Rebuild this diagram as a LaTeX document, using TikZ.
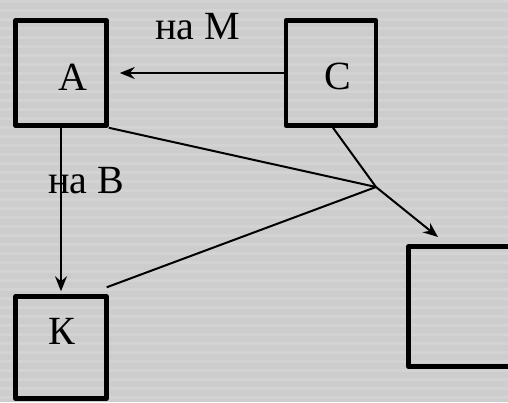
\documentclass[tikz,border=0pt]{standalone}
\usepackage{fontspec}
\setmainfont{Liberation Serif}
\usetikzlibrary{arrows.meta}
\definecolor{bgbase}{HTML}{CDCDCD}
\definecolor{bgstripe}{HTML}{D3D3D3}
\tikzset{
  boxnode/.style={draw=black, line width=4.5pt, line join=round, fill=none, inner sep=0pt},
  conn/.style={draw=black, line width=2pt},
  arr/.style={conn, -{Stealth[length=15pt, width=12pt, inset=5pt]}},
  lbl/.style={font=\fontsize{40}{48}\selectfont, inner sep=0pt}
}
\begin{document}
\begin{tikzpicture}[x=1pt, y=-1pt]
\useasboundingbox (0,0) rectangle (508,402);
\fill[bgbase] (0,0) rectangle (508,402);
\foreach \s in {0,9,...,400} {
  \fill[bgstripe] (0,\s) rectangle (508,\s+3);
}
\begin{scope}
\clip (0,0) rectangle (508,402);
% boxes
\node[boxnode, minimum width=91pt, minimum height=105pt,
      label={[lbl, xshift=12pt, yshift=-4pt]center:А}] (A) at (61,73) {};
\node[boxnode, minimum width=90pt, minimum height=105pt,
      label={[lbl, xshift=7pt, yshift=-3pt]center:С}] (C) at (331,73) {};
\node[boxnode, minimum width=91pt, minimum height=102pt,
      label={[lbl, xshift=1pt, yshift=16pt]center:К}] (K) at (61,347.5) {};
\node[boxnode, minimum width=120pt, minimum height=120pt] (D) at (468.5,306.5) {};
% free points
\coordinate (P) at (376,187);
\coordinate (Dtip) at (438,237);
% connectors
\draw[arr, shorten >=11pt] (C.west) -- (C.west -| A.east);
\draw[arr, shorten >=3pt] (A.south) -- (K.north);
\draw[conn] (A.south east) -- (P);
\draw[conn] ([xshift=-2pt, yshift=7pt]K.north east) -- (P);
\draw[arr, line join=round] ([xshift=2pt]C.south) -- (P) -- (Dtip);
% texts
\node[lbl, anchor=base west] (tM) at (155,39) {на М};
\node[lbl, anchor=base west] (tB) at (48,193) {на В};
\end{scope}
\end{tikzpicture}
\end{document}
